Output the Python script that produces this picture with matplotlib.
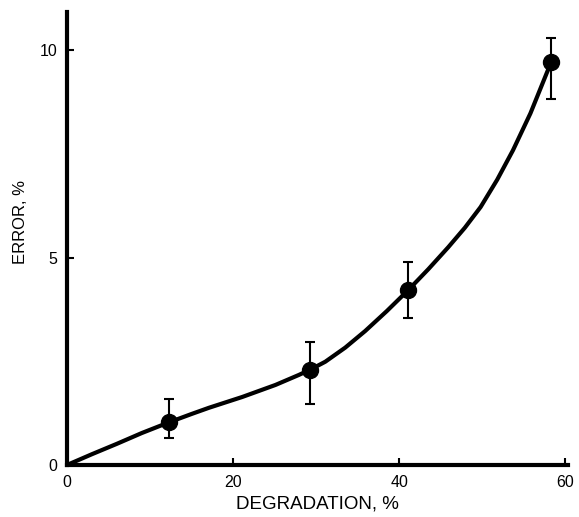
import matplotlib
matplotlib.use("Agg")
import matplotlib.pyplot as plt

# Measured data points (degradation %, error %)
deg = [12.3, 29.3, 41.1, 58.3]
err = [1.04, 2.29, 4.22, 9.71]
err_lo = [0.39, 0.82, 0.68, 0.89]
err_hi = [0.56, 0.67, 0.67, 0.59]

# Smooth curve
curve_x = [0.0, 3.0, 6.0, 9.0, 12.3, 15.0, 17.1, 21.1, 25.1, 27.9, 29.3, 31.1,
           33.5, 35.9, 38.5, 41.1, 43.5, 45.9, 47.9, 49.8, 51.8, 53.7, 55.8,
           57.8, 58.3]
curve_y = [0.0, 0.26, 0.51, 0.77, 1.03, 1.23, 1.38, 1.64, 1.93, 2.17, 2.30, 2.49,
           2.83, 3.23, 3.71, 4.22, 4.72, 5.25, 5.72, 6.22, 6.88, 7.59, 8.48,
           9.47, 9.71]

xticks = [0, 20, 40, 60]
yticks = [0, 5, 10]

plt.rcParams['font.family'] = ['Liberation Sans', 'DejaVu Sans']

fig = plt.figure(figsize=(5.79, 5.17), dpi=100)
ax = fig.add_axes([0.1157, 0.1006, 0.865, 0.876])

ax.plot(curve_x, curve_y, color='black', lw=3.0, solid_capstyle='round',
        solid_joinstyle='round', zorder=2)
ax.errorbar(deg, err, yerr=[err_lo, err_hi], fmt='o', color='black',
            markersize=11.5, elinewidth=1.5, capsize=3.8, capthick=1.5, zorder=3)

ax.set_xlim(0, 60.3)
ax.set_ylim(0, 10.92)
ax.set_xticks(xticks)
ax.set_yticks(yticks)
ax.tick_params(direction='in', length=5, width=1.5, labelsize=11.5, pad=7)
for s in ['top', 'right']:
    ax.spines[s].set_visible(False)
for s in ['left', 'bottom']:
    ax.spines[s].set_linewidth(3)
ax.set_xlabel('DEGRADATION, %', fontsize=13.5, labelpad=4)
ax.set_ylabel('ERROR, %', fontsize=12)
ax.yaxis.set_label_coords(-0.078, 0.536)

fig.savefig('out.png', dpi=100)
